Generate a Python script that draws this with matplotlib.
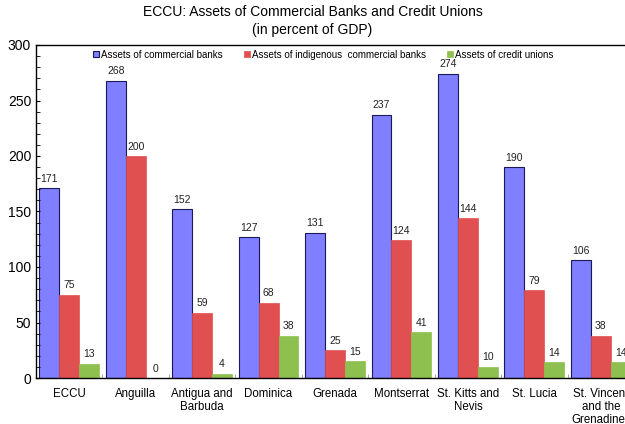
import matplotlib
matplotlib.use("Agg")
import matplotlib.pyplot as plt
import numpy as np
from matplotlib.ticker import MultipleLocator, FixedLocator

# Data
countries = ["ECCU", "Anguilla", "Antigua and\nBarbuda", "Dominica", "Grenada",
             "Montserrat", "St. Kitts and\nNevis", "St. Lucia",
             "St. Vincent\nand the\nGrenadines"]
commercial = [171, 268, 152, 127, 131, 237, 274, 190, 106]
indigenous = [75, 200, 59, 68, 25, 124, 144, 79, 38]
credit_unions = [13, 0, 4, 38, 15, 41, 10, 14, 14]
series_names = ["Assets of commercial banks",
                "Assets of indigenous  commercial banks",
                "Assets of credit unions"]

plt.rcParams['font.family'] = ['Liberation Sans', 'DejaVu Sans']

fig = plt.figure(figsize=(6.25, 4.24), dpi=100, facecolor='white')
ax = fig.add_axes([36 / 625, 1 - 378 / 424, 598 / 625, 333 / 424])

x = np.arange(len(countries)) + 0.5
w = 0.3
colors = ['#7F7FFF', '#E05050', '#8DC04F']
edges = ['#1A1A5A', '#E05050', '#8DC04F']

for k, (vals, name) in enumerate(zip([commercial, indigenous, credit_unions], series_names)):
    bars = ax.bar(x + (k - 1) * w, vals, width=w, color=colors[k],
                  edgecolor=edges[k], linewidth=0.8 if k == 0 else 0.5, label=name)
    for b, v in zip(bars, vals):
        ax.text(b.get_x() + b.get_width() / 2, v + 4, f"{v}",
                ha='center', va='bottom', fontsize=7.5, color='#222222')

ax.set_xlim(0, len(countries))
ax.set_ylim(0, 300)
ax.yaxis.set_major_locator(MultipleLocator(50))
ax.yaxis.set_minor_locator(MultipleLocator(10))
ax.tick_params(axis='y', which='both', direction='in', labelsize=10, length=3)
ax.set_xticks(x)
ax.set_xticklabels(countries, fontsize=8.3, linespacing=1.15)
ax.tick_params(axis='x', which='major', length=0, pad=7)
ax.xaxis.set_minor_locator(FixedLocator(np.arange(1, len(countries))))
ax.tick_params(axis='x', which='minor', direction='in', length=3, color='#999999')

ax.spines['right'].set_visible(False)
for s in ['left', 'bottom', 'top']:
    ax.spines[s].set_linewidth(1.0)

ax.legend(loc='upper center', bbox_to_anchor=(0.48, 1.012), ncol=3, frameon=False,
          fontsize=7, handlelength=0.6, handleheight=0.6, handletextpad=0.2,
          columnspacing=2.2)

fig.text(0.50, 0.988, "ECCU: Assets of Commercial Banks and Credit Unions\n(in percent of GDP)",
         ha='center', va='top', fontsize=10, linespacing=1.35)

fig.savefig("out.png", dpi=100, facecolor='white')
